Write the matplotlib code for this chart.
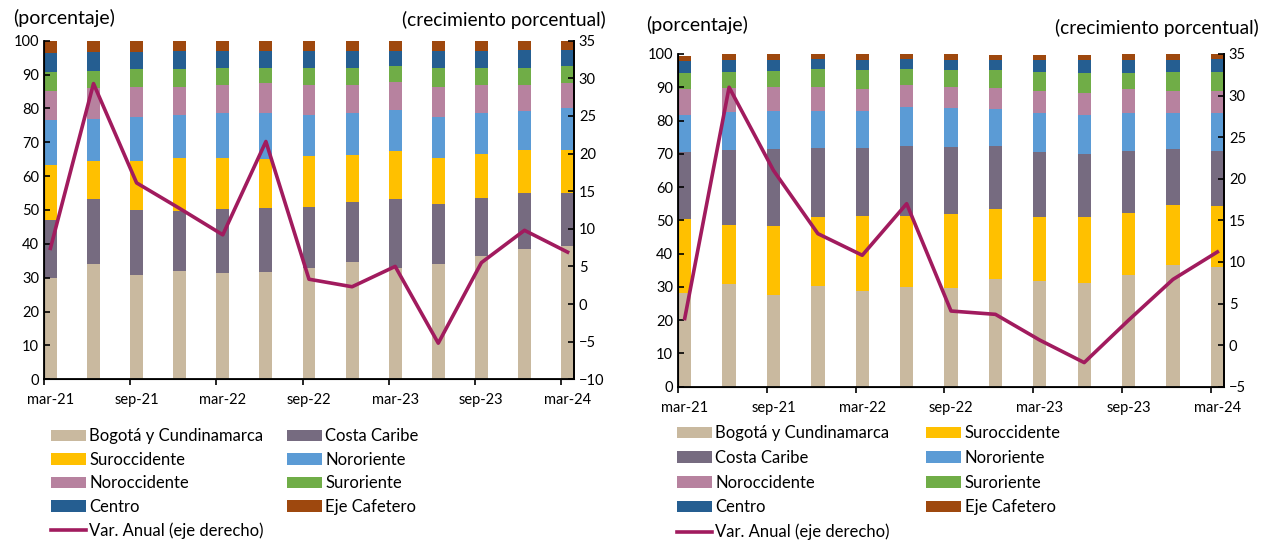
import numpy as np
import matplotlib.pyplot as plt

plt.rcParams['font.family'] = ['Lato', 'DejaVu Sans']

quarters = ["mar-21", "jun-21", "sep-21", "dic-21", "mar-22", "jun-22", "sep-22",
            "dic-22", "mar-23", "jun-23", "sep-23", "dic-23", "mar-24"]

# left panel: shares (%) per region, bottom to top
left_bogota = [29.8, 34.0, 30.8, 32.1, 31.3, 31.7, 33.0, 34.5, 33.0, 34.0, 36.4, 38.4, 39.4]
left_costa_caribe = [17.2, 19.2, 19.3, 17.7, 19.0, 19.0, 18.0, 17.8, 20.2, 17.7, 17.1, 16.7, 15.7]
left_suroccidente = [16.3, 11.4, 14.5, 15.5, 15.0, 14.3, 14.9, 13.9, 14.2, 13.6, 13.0, 12.6, 12.6]
left_nororiente = [13.3, 12.4, 13.0, 12.8, 13.2, 13.5, 12.2, 12.3, 12.1, 12.3, 12.0, 11.5, 12.5]
left_noroccidente = [8.5, 9.1, 8.7, 8.2, 8.3, 8.9, 8.9, 8.3, 8.2, 8.7, 8.3, 7.6, 7.2]
left_suroriente = [5.7, 5.0, 5.2, 5.2, 5.0, 4.4, 4.8, 5.0, 4.8, 5.5, 5.0, 5.0, 5.1]
left_centro = [5.5, 5.5, 5.1, 5.4, 5.1, 5.1, 5.1, 5.2, 4.4, 5.1, 5.1, 5.4, 4.7]
left_eje_cafetero = [3.7, 3.4, 3.4, 3.1, 3.1, 3.1, 3.1, 3.0, 3.1, 3.1, 3.1, 2.8, 2.8]
left_var_anual = [7.4, 29.3, 16.1, 12.7, 9.2, 21.6, 3.3, 2.3, 5.0, -5.2, 5.5, 9.8, 6.9]

# right panel: shares (%) per region, bottom to top
right_bogota = [28.1, 30.9, 27.6, 30.3, 28.9, 29.9, 29.8, 32.3, 31.8, 31.2, 33.6, 36.6, 36.1]
right_suroccidente = [22.2, 17.7, 20.7, 20.6, 22.4, 21.4, 22.2, 21.0, 19.2, 19.8, 18.7, 18.0, 18.2]
right_costa_caribe = [20.1, 22.5, 23.1, 20.9, 20.5, 21.1, 20.1, 19.1, 19.4, 18.8, 18.5, 16.8, 16.5]
right_nororiente = [11.3, 11.6, 11.6, 11.2, 11.2, 11.6, 11.6, 11.0, 11.8, 11.9, 11.6, 11.0, 11.6]
right_noroccidente = [7.7, 7.2, 7.2, 7.2, 6.6, 6.6, 6.5, 6.5, 6.7, 6.5, 7.0, 6.5, 6.5]
right_suroriente = [4.8, 4.7, 4.7, 5.4, 5.6, 5.0, 5.1, 5.4, 5.7, 6.0, 4.9, 5.7, 5.7]
right_centro = [3.7, 3.6, 3.3, 2.9, 3.0, 2.9, 2.9, 2.9, 3.6, 4.0, 3.9, 3.6, 3.9]
right_eje_cafetero = [1.6, 1.8, 1.8, 1.5, 1.8, 1.5, 1.8, 1.5, 1.5, 1.5, 1.8, 1.8, 1.5]
right_var_anual = [3.2, 31.0, 21.0, 13.4, 10.8, 17.0, 4.1, 3.7, 0.6, -2.1, 3.0, 7.9, 11.2]

colors = {
    "Bogotá y Cundinamarca": "#C9B99F",
    "Costa Caribe": "#766B80",
    "Suroccidente": "#FFC000",
    "Nororiente": "#5B9BD5",
    "Noroccidente": "#B7829F",
    "Suroriente": "#70AD47",
    "Centro": "#255E91",
    "Eje Cafetero": "#9E480E",
}
line_color = "#A11B5E"


def draw_panel(ax, series, var_anual, right_lim, right_ticks):
    x = np.arange(len(quarters))
    bottom = np.zeros(len(quarters))
    handles = []
    for name, vals in series:
        b = ax.bar(x, vals, width=0.3, bottom=bottom, align='edge',
                   color=colors[name], label=name, linewidth=0)
        bottom += np.array(vals)
        handles.append(b)
    ax.set_xlim(0, 12.3)
    ax.set_ylim(0, 100)
    ax.set_yticks(np.arange(0, 101, 10))
    ax.set_xticks(x[::2] + 0.15)
    ax.set_xticklabels(quarters[::2])
    ax.set_xticks(x[::2], minor=True)
    ax.tick_params(axis='x', which='major', length=0, labelsize=10.5, pad=10)
    ax.tick_params(axis='x', which='minor', length=4, width=1.2, direction='out')
    ax.tick_params(axis='y', direction='in', length=4, width=1.2, labelsize=10.5)
    ax.spines['top'].set_visible(False)
    for s in ['left', 'bottom', 'right']:
        ax.spines[s].set_linewidth(1.3)

    ax2 = ax.twinx()
    ln, = ax2.plot(x + 0.15, var_anual, color=line_color, linewidth=2.6,
                   label="Var. Anual (eje derecho)")
    ax2.set_ylim(*right_lim)
    ax2.set_yticks(right_ticks)
    ax2.tick_params(axis='y', direction='in', length=4, width=1.2, labelsize=10.5)
    ax2.spines['top'].set_visible(False)
    ax2.spines['right'].set_linewidth(1.3)
    handles.append(ln)
    return handles


fig = plt.figure(figsize=(12.7, 5.41), dpi=100)

# legend is filled column-wise, reorder so it reads row by row
order = [0, 2, 4, 6, 8, 1, 3, 5, 7]

ax_l = fig.add_axes([0.0346, 0.2989, 0.4174, 0.6259])
left_series = [
    ("Bogotá y Cundinamarca", left_bogota),
    ("Costa Caribe", left_costa_caribe),
    ("Suroccidente", left_suroccidente),
    ("Nororiente", left_nororiente),
    ("Noroccidente", left_noroccidente),
    ("Suroriente", left_suroriente),
    ("Centro", left_centro),
    ("Eje Cafetero", left_eje_cafetero),
]
h = draw_panel(ax_l, left_series, left_var_anual, (-10, 35), np.arange(-10, 36, 5))
fig.legend([h[i] for i in order], [h[i].get_label() for i in order],
           loc='upper left', bbox_to_anchor=(0.040, 0.208), ncol=2, frameon=False,
           fontsize=12, handlelength=2.1, handleheight=0.7, handletextpad=0.2,
           labelspacing=0.45, columnspacing=1.4, borderpad=0, borderaxespad=0)
fig.text(0.010, 0.967, "(porcentaje)", fontsize=14, va='center', ha='left')
fig.text(0.477, 0.963, "(crecimiento porcentual)", fontsize=13.8, va='center', ha='right')

ax_r = fig.add_axes([0.5339, 0.2852, 0.4299, 0.6150])
right_series = [
    ("Bogotá y Cundinamarca", right_bogota),
    ("Suroccidente", right_suroccidente),
    ("Costa Caribe", right_costa_caribe),
    ("Nororiente", right_nororiente),
    ("Noroccidente", right_noroccidente),
    ("Suroriente", right_suroriente),
    ("Centro", right_centro),
    ("Eje Cafetero", right_eje_cafetero),
]
h = draw_panel(ax_r, right_series, right_var_anual, (-5, 35), np.arange(-5, 36, 5))
fig.legend([h[i] for i in order], [h[i].get_label() for i in order],
           loc='upper left', bbox_to_anchor=(0.533, 0.214), ncol=2, frameon=False,
           fontsize=12, handlelength=2.1, handleheight=0.7, handletextpad=0.2,
           labelspacing=0.52, columnspacing=2.2, borderpad=0, borderaxespad=0)
fig.text(0.509, 0.954, "(porcentaje)", fontsize=14, va='center', ha='left')
fig.text(0.991, 0.948, "(crecimiento porcentual)", fontsize=13.8, va='center', ha='right')

fig.savefig("out.png", dpi=100)
plt.close(fig)
